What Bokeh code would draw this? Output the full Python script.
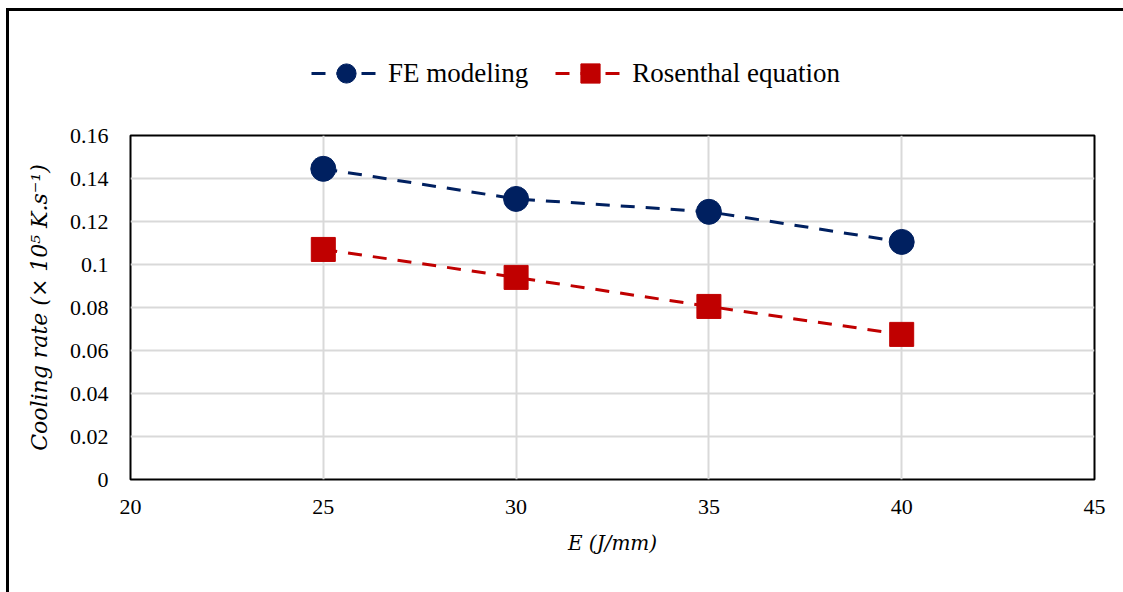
from bokeh.plotting import figure
from bokeh.layouts import column
from bokeh.models import Range1d, FixedTicker, Legend, LegendItem
from bokeh.embed import file_html
from bokeh.resources import INLINE

# Heat input (J/mm) and cooling rate (x 1e5 K/s)
energy = [25, 30, 35, 40]
fe_modeling = [0.1445, 0.1305, 0.1245, 0.1105]
rosenthal = [0.107, 0.094, 0.0805, 0.0675]

x_ticks = [20, 25, 30, 35, 40, 45]
y_ticks = [0, 0.02, 0.04, 0.06, 0.08, 0.1, 0.12, 0.14, 0.16]
y_tick_labels = ["0", "0.02", "0.04", "0.06", "0.08", "0.1", "0.12", "0.14", "0.16"]

NAVY = "#002060"
RED = "#C00000"
SERIF = "Liberation Serif"
DASH = "14 11"

# ---- main chart ----
p = figure(
    width=1114, height=471,
    x_range=Range1d(20, 45), y_range=Range1d(0, 0.16),
    output_backend="svg", toolbar_location=None,
    min_border_left=121, min_border_right=29,
    min_border_top=14, min_border_bottom=113,
)
p.outline_line_color = "black"
p.outline_line_width = 2
p.background_fill_color = "white"
p.border_fill_color = "white"

for g in (p.xgrid, p.ygrid):
    g.grid_line_color = "#D9D9D9"
    g.grid_line_width = 2

p.xaxis.ticker = FixedTicker(ticks=x_ticks)
p.yaxis.ticker = FixedTicker(ticks=y_ticks)
p.yaxis.major_label_overrides = dict(zip(y_ticks, y_tick_labels))

for ax in (p.xaxis, p.yaxis):
    ax.axis_line_color = None
    ax.major_tick_line_color = None
    ax.minor_tick_line_color = None
    ax.major_tick_out = 0
    ax.major_tick_in = 0
    ax.major_label_text_font = SERIF
    ax.major_label_text_font_size = "22px"
    ax.major_label_text_color = "#000000"
    ax.axis_label_text_font = "DejaVu Serif"
    ax.axis_label_text_font_style = "italic"
    ax.axis_label_text_color = "#000000"

p.xaxis.axis_label_text_font_size = "20px"
p.yaxis.axis_label_text_font_size = "22px"
p.xaxis.major_label_standoff = 20
p.yaxis.major_label_standoff = 22
p.xaxis.axis_label = "E (J/mm)"
p.yaxis.axis_label = "Cooling rate (× 10⁵ K.s⁻¹)"
p.xaxis.axis_label_standoff = 14
p.yaxis.axis_label_standoff = 15

p.line(energy, fe_modeling, line_color=NAVY, line_width=3, line_dash=DASH)
p.scatter(energy, fe_modeling, marker="circle", size=25, fill_color=NAVY, line_color=NAVY)
p.line(energy, rosenthal, line_color=RED, line_width=3, line_dash=DASH)
p.scatter(energy, rosenthal, marker="square", size=24, fill_color=RED, line_color=RED)

# ---- legend strip above the chart ----
lg = figure(
    width=1114, height=110,
    x_range=Range1d(0, 1), y_range=Range1d(0, 1),
    x_axis_location=None, y_axis_location=None,
    output_backend="svg", toolbar_location=None,
    min_border_left=0, min_border_right=0, min_border_top=0, min_border_bottom=0,
)
lg.grid.visible = False
lg.outline_line_color = None
lg.background_fill_color = "white"
lg.border_fill_color = "white"

# off-range keys so only their legend swatches show
key_x = [-5, -4]
key_y = [-5, -4]
fe_line = lg.line(key_x, key_y, line_color=NAVY, line_width=3, line_dash=DASH)
fe_pts = lg.scatter(key_x, key_y, marker="circle", size=25, fill_color=NAVY, line_color=NAVY)
ro_line = lg.line(key_x, key_y, line_color=RED, line_width=3, line_dash=DASH)
ro_pts = lg.scatter(key_x, key_y, marker="square", size=24, fill_color=RED, line_color=RED)

legend = Legend(
    items=[
        LegendItem(label="FE modeling", renderers=[fe_line, fe_pts]),
        LegendItem(label="Rosenthal equation", renderers=[ro_line, ro_pts]),
    ],
    orientation="horizontal",
    location=(181, 24),
    glyph_width=70, glyph_height=48,
    label_standoff=7, spacing=27, padding=0, margin=0,
    label_text_font=SERIF, label_text_font_size="27px",
    label_text_color="#000000",
    border_line_color=None, background_fill_alpha=0,
)
lg.add_layout(legend, "center")

page = column(
    lg, p, spacing=0,
    styles={
        "margin-left": "6px", "margin-top": "8px",
        "border-left": "3px solid black", "border-top": "3px solid black",
    },
)

open("out.html", "w").write(file_html(page, INLINE))
